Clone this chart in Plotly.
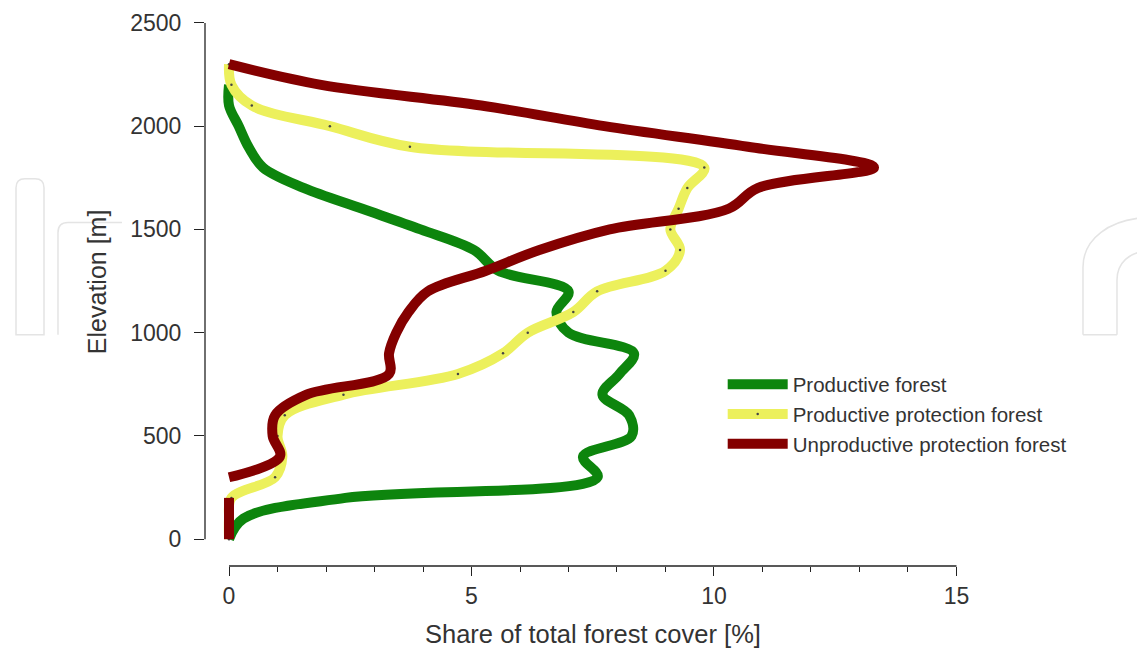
import plotly.graph_objects as go

# Elevation bins [m]
elevation = [0, 100, 200, 300, 400, 500, 600, 700, 800, 900, 1000, 1100,
             1200, 1300, 1400, 1500, 1600, 1700, 1800, 1900, 2000, 2100, 2200, 2300]

# Share of total forest cover [%]
productive = [0, 0.3, 2.4, 7.6, 7.3, 8.3, 8.25, 7.7, 8.05, 8.35, 7.0, 6.75,
              7.0, 5.55, 5.05, 3.95, 2.75, 1.55, 0.7, 0.4, 0.2, 0, 0, None]
productive_protection = [0, 0, 0.05, 0.95, 1.1, 1.0, 1.15, 2.36, 4.72, 5.65, 6.16, 7.1,
                         7.59, 9.0, 9.3, 9.1, 9.27, 9.45, 9.8, 3.73, 2.08, 0.47, 0.05, 0]
# the unproductive series has a break between 200 m and 300 m
elevation_unprod = [0, 100, 200, 250, 300, 400, 500, 600, 700, 800, 900, 1000, 1100,
                    1200, 1300, 1400, 1500, 1600, 1700, 1800, 1900, 2000, 2100, 2200, 2300]
unproductive_protection = [0, 0, 0, None, 0, 1.05, 0.9, 0.95, 1.6, 3.3, 3.3, 3.45, 3.7,
                           4.1, 5.3, 6.4, 7.85, 10.3, 10.9, 13.3, 10.7, 7.74, 5.2, 1.9, 0]

x_ticks = [0, 5, 10, 15]
y_ticks = [0, 500, 1000, 1500, 2000, 2500]

GREEN = "#0d850d"
YELLOW = "#ecf05c"
RED = "#840000"
TXT = "#333333"
AX = "#222222"
WM = "#e4e4e4"
FONT = "Liberation Sans, Arial, sans-serif"

W, H = 1145, 650
# the page body adds an 8px offset, margins compensate for it
L, R, T, B = 197, 173, 2, 92
PW, PH = W - L - R, H - T - B
OFF = 8


def px(x):  # page pixel -> paper x
    return (x - OFF - L) / PW


def py(y):  # page pixel -> paper y
    return (H - B - (y - OFF)) / PH


def path(cmds):
    out = []
    for c in cmds:
        if isinstance(c, str):
            out.append(c)
        else:
            out.append(f"{px(c[0]):.5f},{py(c[1]):.5f}")
    return " ".join(out)


fig = go.Figure()
fig.add_trace(go.Scatter(x=productive, y=elevation, mode="lines", name="Productive forest",
                         line=dict(color=GREEN, width=10, shape="spline", smoothing=1)))
fig.add_trace(go.Scatter(x=productive_protection, y=elevation, mode="lines+markers",
                         name="Productive protection forest",
                         line=dict(color=YELLOW, width=10, shape="spline", smoothing=1),
                         marker=dict(color="#444444", size=2.5)))
fig.add_trace(go.Scatter(x=unproductive_protection, y=elevation_unprod, mode="lines",
                         name="Unproductive protection forest", connectgaps=False,
                         line=dict(color=RED, width=10, shape="spline", smoothing=1)))

# faint watermark outlines
watermark = [
    path(["M", (16, 333), "L", (16, 185), "Q", (16, 176), (25, 176), "L", (35, 176),
          "Q", (44, 176), (44, 185), "L", (44, 333), "Z"]),
    path(["M", (58, 333), "L", (58, 230), "Q", (58, 220), (68, 220), "L", (122, 220)]),
    path(["M", (1083, 333), "L", (1083, 265), "C", (1083, 236), (1110, 217), (1146, 215)]),
    path(["M", (1117, 333), "L", (1117, 278), "C", (1117, 260), (1130, 250), (1146, 249)]),
    path(["M", (1083, 333), "L", (1117, 333)]),
]
shapes = [dict(type="path", xref="paper", yref="paper", path=p, layer="below",
               line=dict(color=WM, width=1.5)) for p in watermark]
shapes += [
    dict(type="line", xref="paper", x0=0, x1=0, yref="y", y0=y_ticks[0], y1=y_ticks[-1],
         line=dict(color=AX, width=1.3)),
    dict(type="line", xref="x", x0=x_ticks[0], x1=x_ticks[-1], yref="paper", y0=0, y1=0,
         line=dict(color=AX, width=1.3)),
]

fig.update_layout(
    width=W, height=H,
    margin=dict(l=L, r=R, t=T, b=B),
    paper_bgcolor="white", plot_bgcolor="white",
    font=dict(family=FONT, color=TXT),
    showlegend=True,
    legend=dict(x=0.668, y=0.365, xanchor="left", yanchor="top",
                font=dict(size=20.5, family=FONT, color=TXT),
                bgcolor="rgba(0,0,0,0)", itemwidth=60, tracegroupgap=0),
    xaxis=dict(range=[-0.495, 15.485], tickvals=x_ticks, ticks="outside", ticklen=9,
               tickwidth=1.2, tickcolor=AX, showline=False, showgrid=False, zeroline=False,
               tickfont=dict(size=23, color=TXT),
               minor=dict(dtick=1, tick0=0, ticks="outside", ticklen=5, tickcolor=AX,
                          tickwidth=1.2, showgrid=False)),
    yaxis=dict(range=[-129.8, 2543], tickvals=y_ticks, ticks="outside", ticklen=10,
               tickwidth=1.2, tickcolor=AX, showline=False, showgrid=False, zeroline=False,
               ticklabelstandoff=8, ticklabeloverflow="allow",
               tickfont=dict(size=23, color=TXT)),
    shapes=shapes,
    annotations=[
        dict(text="Share of total forest cover [%]", xref="paper", yref="paper",
             x=0.5006, y=-0.124, xanchor="center", yanchor="middle", showarrow=False,
             font=dict(size=25.5, color=TXT)),
        dict(text="Elevation [m]", xref="paper", yref="paper", x=-0.1394, y=0.516,
             xanchor="center", yanchor="middle", textangle=-90, showarrow=False,
             font=dict(size=25, color=TXT)),
    ],
)

fig.write_html("out.html")
